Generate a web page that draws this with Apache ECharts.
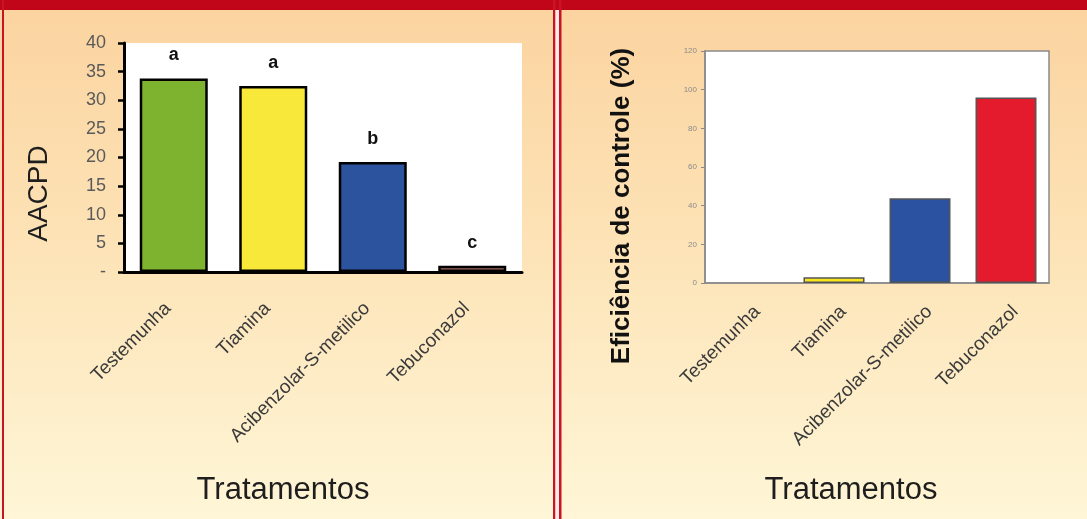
<!DOCTYPE html>
<html>
<head>
<meta charset="utf-8">
<script src="https://cdn.jsdelivr.net/npm/echarts@6/dist/echarts.min.js"></script>
<style>
  html, body { margin: 0; padding: 0; }
  #chart { width: 1087px; height: 519px; }
</style>
</head>
<body>
<div id="chart"></div>
<script>
// Treatments (shared by both panels)
const categories = ['Testemunha', 'Tiamina', 'Acibenzolar-S-metilico', 'Tebuconazol'];

// Left panel: area under disease progress curve
const aacpdValues = [33.8, 32.5, 19.2, 1.1];
const aacpdLetters = ['a', 'a', 'b', 'c'];
const aacpdColors = ['#7db32e', '#f8e839', '#2c539d', '#a2675a'];
const aacpdTicks = ['-', '5', '10', '15', '20', '25', '30', '35', '40'];

// Right panel: control efficiency (%)
const efficiencyValues = [0, 3.0, 43.8, 96.0];
const efficiencyColors = ['#ffffff', '#f7e51e', '#2b52a0', '#e31b2d'];

const chart = echarts.init(document.getElementById('chart'), null, { renderer: 'canvas' });

const FONT = 'Liberation Sans, Arial, sans-serif';

// Rotated category labels; `shift` slides the text along its own baseline
function catLabel(margin, shift) {
  return {
    interval: 0,
    rotate: 45,
    color: '#3a3a3a',
    fontFamily: FONT,
    fontSize: 19,
    margin: margin,
    padding: [0, -shift, 0, 0]
  };
}

chart.setOption({
  animation: false,
  backgroundColor: {
    type: 'linear', x: 0, y: 0, x2: 0, y2: 1,
    colorStops: [
      { offset: 0, color: '#fbd39f' },
      { offset: 0.5, color: '#fde4b8' },
      { offset: 1, color: '#fef6d7' }
    ]
  },
  graphic: [
    { type: 'rect', shape: { x: 0, y: 0, width: 1087, height: 10 }, style: { fill: '#c1061a' }, z: 10 },
    { type: 'rect', shape: { x: 2, y: 0, width: 2, height: 519 }, style: { fill: '#c91425' }, z: 10 },
    { type: 'rect', shape: { x: 553, y: 0, width: 2.5, height: 519 }, style: { fill: '#c91425' }, z: 10 },
    { type: 'rect', shape: { x: 555.5, y: 10, width: 3.5, height: 509 }, style: { fill: '#fbeaea' }, z: 10 },
    { type: 'rect', shape: { x: 559, y: 0, width: 2.5, height: 519 }, style: { fill: '#c91425' }, z: 10 }
  ],
  grid: [
    { left: 124, top: 43, width: 398, height: 229, show: true, backgroundColor: '#ffffff', borderWidth: 0 },
    { left: 705, top: 51, width: 344, height: 232, show: true, backgroundColor: '#ffffff', borderColor: '#8a8a8a', borderWidth: 1.5 }
  ],
  xAxis: [
    {
      gridIndex: 0, type: 'category', data: categories,
      axisLine: { lineStyle: { color: '#000', width: 3 } },
      axisTick: { show: false },
      axisLabel: catLabel(28, -8),
      name: 'Tratamentos', nameLocation: 'middle', nameGap: 203,
      nameTextStyle: { color: '#1e1e1e', fontSize: 31, fontFamily: FONT, padding: [0, 80, 0, 0] }
    },
    {
      gridIndex: 1, type: 'category', data: categories,
      axisLine: { lineStyle: { color: '#8a8a8a', width: 1.5 } },
      axisTick: { show: false },
      axisLabel: catLabel(35, 13),
      name: 'Tratamentos', nameLocation: 'middle', nameGap: 192,
      nameTextStyle: { color: '#1e1e1e', fontSize: 31, fontFamily: FONT, padding: [0, 52, 0, 0] }
    }
  ],
  yAxis: [
    {
      gridIndex: 0, type: 'value', min: 0, max: 40, interval: 5,
      splitLine: { show: false },
      axisLine: { show: true, lineStyle: { color: '#000', width: 3 } },
      axisTick: { show: true, length: 6, lineStyle: { color: '#000', width: 2.5 } },
      axisLabel: {
        color: '#5a5a5a', fontSize: 18, fontFamily: 'Liberation Sans Narrow, Liberation Sans, Arial, sans-serif', margin: 18,
        formatter: (v) => aacpdTicks[Math.round(v / 5)]
      },
      name: 'AACPD', nameLocation: 'middle', nameGap: 71,
      nameTextStyle: { color: '#1e1e1e', fontSize: 28, fontFamily: FONT, padding: [0, 72, 0, 0] }
    },
    {
      gridIndex: 1, type: 'value', min: 0, max: 120, interval: 20,
      splitLine: { show: false },
      axisLine: { show: true, lineStyle: { color: '#8a8a8a', width: 1.5 } },
      axisTick: { show: true, length: 4, lineStyle: { color: '#8a8a8a', width: 1 } },
      axisLabel: { color: '#8a8a8a', fontSize: 8, fontFamily: FONT, margin: 8 },
      name: 'Eficiência de controle (%)', nameLocation: 'middle', nameGap: 70,
      nameTextStyle: { color: '#111', fontSize: 26, fontWeight: 'bold', fontFamily: FONT, padding: [0, 78, 0, 0] }
    }
  ],
  series: [
    {
      type: 'bar', xAxisIndex: 0, yAxisIndex: 0, barWidth: 68,
      data: aacpdValues.map((v, i) => ({
        value: v,
        itemStyle: { color: aacpdColors[i], borderColor: '#000', borderWidth: 2.5 }
      })),
      label: {
        show: true, position: 'top', distance: 14,
        formatter: (p) => aacpdLetters[p.dataIndex],
        color: '#111', fontSize: 18, fontWeight: 'bold', fontFamily: FONT
      }
    },
    {
      type: 'bar', xAxisIndex: 1, yAxisIndex: 1, barWidth: 61,
      data: efficiencyValues.map((v, i) => ({
        value: v,
        itemStyle: { color: efficiencyColors[i], borderColor: '#555', borderWidth: v > 0 ? 1.5 : 0 }
      }))
    }
  ]
});
</script>
</body>
</html>
